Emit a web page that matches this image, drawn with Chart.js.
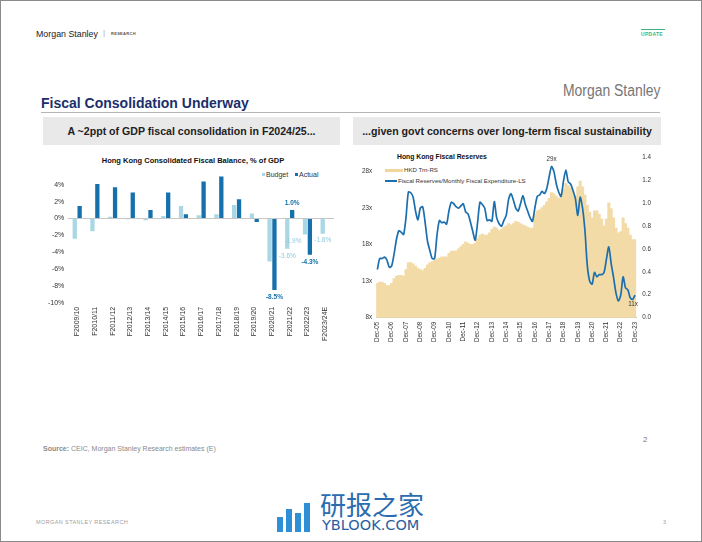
<!DOCTYPE html>
<html>
<head>
<meta charset="utf-8">
<title>Fiscal Consolidation Underway</title>
<script src="https://cdn.jsdelivr.net/npm/chart.js@4.4.1/dist/chart.umd.min.js"></script>
<style>
  html, body { margin: 0; padding: 0; background: #fff; }
  body { width: 702px; height: 542px; position: relative; overflow: hidden;
         font-family: "Liberation Sans", Arial, sans-serif; }
  .frame { position: absolute; left: 0; top: 0; width: 700px; height: 540px; border: 1px solid #8a8a8a; }
  .t { position: absolute; white-space: nowrap; line-height: 1; }
  .squeeze { transform-origin: 0 50%; }
  .box { position: absolute; background: #e9e9e9; }
  .chart { position: absolute; }
  .sw { position: absolute; }
</style>
</head>
<body>
<div class="frame"></div>

<!-- header -->
<div class="t squeeze" style="left:36px; top:28.5px; font-size:9.5px; color:#222; transform:scaleX(0.93);">Morgan Stanley</div>
<div class="t" style="left:103px; top:29px; font-size:8px; color:#aaa;">|</div>
<div class="t" style="left:111px; top:31.5px; font-size:4px; font-weight:bold; color:#555; letter-spacing:0.3px;">RESEARCH</div>
<div style="position:absolute; left:641px; top:29px; width:24px; height:1px; background:#3fb37f;"></div>
<div class="t" style="left:641px; top:31.5px; font-size:5px; font-weight:bold; color:#3fb37f; letter-spacing:0.3px;">UPDATE</div>

<div class="t squeeze" style="left:563px; top:83px; font-size:16px; color:#767676; transform:scaleX(0.87);">Morgan Stanley</div>
<div class="t" style="left:41px; top:96px; font-size:14px; font-weight:bold; color:#1b2f6b;">Fiscal Consolidation Underway</div>
<div style="position:absolute; left:41px; top:112px; width:619px; height:1px; background:#b5b5b5;"></div>

<div class="box" style="left:43px; top:117px; width:297px; height:28px;"></div>
<div class="box" style="left:353px; top:117px; width:308px; height:28px;"></div>
<div class="t" style="left:43px; width:297px; text-align:center; top:125.5px; font-size:10.6px; font-weight:bold; color:#222;">A ~2ppt of GDP fiscal consolidation in F2024/25...</div>
<div class="t" style="left:353px; width:308px; text-align:center; top:125.5px; font-size:10.6px; font-weight:bold; color:#222;">...given govt concerns over long-term fiscal sustainability</div>

<!-- left chart -->
<div class="t" style="left:30px; width:326px; text-align:center; top:157px; font-size:7.5px; font-weight:bold; color:#111;">Hong Kong Consolidated Fiscal Balance, % of GDP</div>
<div class="sw" style="left:261.5px; top:172.5px; width:3.5px; height:3.5px; background:#a9d7e5;"></div>
<div class="t" style="left:266px; top:171px; font-size:7px; color:#333;">Budget</div>
<div class="sw" style="left:294.5px; top:172.5px; width:3.5px; height:3.5px; background:#1570ab;"></div>
<div class="t" style="left:299px; top:171px; font-size:7px; color:#333;">Actual</div>
<div class="chart" style="left:30px; top:150px; width:310px; height:200px;"><canvas id="balanceChart"></canvas></div>

<!-- right chart -->
<div class="t" style="left:397px; top:153.5px; font-size:6.8px; font-weight:bold; color:#111;">Hong Kong Fiscal Reserves</div>
<div class="sw" style="left:385px; top:168.5px; width:18px; height:3.5px; background:#f0d59c;"></div>
<div class="t" style="left:404px; top:167px; font-size:6.1px; color:#333;">HKD Trn-RS</div>
<div class="sw" style="left:385px; top:180px; width:12px; height:1.8px; background:#1c6fae;"></div>
<div class="t" style="left:398px; top:178px; font-size:6.1px; color:#333;">Fiscal Reserves/Monthly Fiscal Expenditure-LS</div>
<div class="chart" style="left:355px; top:145px; width:305px; height:205px;"><canvas id="reserveChart"></canvas></div>

<!-- footer -->
<div class="t" style="left:43px; top:444.5px; font-size:7px; color:#8a8a8a;"><b>Source:</b> CEIC, Morgan Stanley Research estimates (E)</div>
<div class="t" style="left:643px; top:436px; font-size:8px; color:#777;">2</div>
<div class="t" style="left:36px; top:519.5px; font-size:5.5px; color:#a0a0a0; letter-spacing:0.4px;">MORGAN STANLEY RESEARCH</div>
<div class="t" style="left:663px; top:519.5px; font-size:5.5px; color:#a0a0a0;">3</div>

<!-- watermark -->
<div class="sw" style="left:277px; top:517px; width:6px; height:15px; background:#2f8fd6;"></div>
<div class="sw" style="left:286px; top:509px; width:6px; height:23px; background:#2f8fd6;"></div>
<div class="sw" style="left:295px; top:513px; width:6px; height:19px; background:#2f8fd6;"></div>
<div class="sw" style="left:304px; top:503px; width:6px; height:29px; background:#2f8fd6;"></div>
<div class="t" style="left:320px; top:491px; font-size:26px; color:#2b6cb0; font-family:'Noto Sans CJK SC', sans-serif;">研报之家</div>
<div class="t" style="left:322px; top:518px; font-size:14.5px; color:#2a5d9f; font-family:'DejaVu Sans', sans-serif;">YBLOOK.COM</div>

<script>
Chart.defaults.font.family = "'Liberation Sans', Arial, sans-serif";
Chart.defaults.color = '#333';

// left: consolidated fiscal balance, % of GDP
const fyLabels = ['F2009/10', 'F2010/11', 'F2011/12', 'F2012/13', 'F2013/14', 'F2014/15', 'F2015/16',
    'F2016/17', 'F2017/18', 'F2018/19', 'F2019/20', 'F2020/21', 'F2021/22', 'F2022/23', 'F2023/24E'];
const budgetPct = [-2.4, -1.5, 0.2, -0.1, -0.2, 0.3, 1.5, 0.4, 0.5, 1.6, 0.6, -5.1, -3.6, -1.9, -1.8];
const actualPct = [1.5, 4.1, 3.7, 3.1, 1.0, 3.1, 0.5, 4.4, 5.0, 2.3, -0.4, -8.5, 1.0, -4.3, null];
const budgetTagIdx = [12, 13, 14];
const actualTagIdx = [11, 12, 13];

// right: fiscal reserves, every second month from Dec-05
const yearTicks = ['Dec-05', 'Dec-06', 'Dec-07', 'Dec-08', 'Dec-09', 'Dec-10', 'Dec-11', 'Dec-12', 'Dec-13',
    'Dec-14', 'Dec-15', 'Dec-16', 'Dec-17', 'Dec-18', 'Dec-19', 'Dec-20', 'Dec-21', 'Dec-22', 'Dec-23'];
const periodMonths = ['Dec', 'Feb', 'Apr', 'Jun', 'Aug', 'Oct'];
const coverMonths = [
    14.6, 16.1, 16.1, 16.3, 15.9, 14.9, 15.1, 16.7, 18.7, 19.9,
    19.7, 19.4, 21.7, 25.2, 25.1, 24.5, 22.6, 21.4, 23.0, 23.2,
    21.1, 18.5, 17.2, 16.1, 16.1, 19.3, 21.3, 21.0, 21.1, 20.8,
    22.6, 23.8, 23.6, 23.2, 23.0, 23.3, 23.6, 22.5, 22.2, 21.1,
    19.8, 18.6, 21.0, 23.8, 23.5, 23.0, 21.3, 21.4, 21.2, 23.9,
    21.7, 20.9, 20.5, 21.3, 22.0, 24.2, 25.0, 24.1, 23.0, 22.6,
    23.6, 24.7, 23.5, 22.6, 21.7, 21.2, 23.0, 24.6, 24.8, 25.3,
    25.0, 25.7, 27.3, 28.7, 28.0, 26.3, 25.2, 24.6, 26.7, 28.2,
    26.6, 26.3, 25.4, 24.3, 22.0, 24.5, 23.0, 19.9, 15.1, 13.0,
    12.6, 14.2, 13.6, 13.9, 13.9, 14.2, 16.0, 17.7, 15.4, 13.5,
    11.4, 10.3, 11.1, 13.6, 12.1, 11.8, 10.7, 10.5, 11.1
];
const hkdTrn = [
    0.30, 0.31, 0.31, 0.30, 0.28, 0.28, 0.30, 0.34, 0.36, 0.37,
    0.37, 0.36, 0.42, 0.48, 0.48, 0.47, 0.45, 0.43, 0.42, 0.41,
    0.43, 0.46, 0.48, 0.49, 0.50, 0.51, 0.52, 0.53, 0.53, 0.53,
    0.56, 0.58, 0.58, 0.58, 0.60, 0.62, 0.64, 0.66, 0.65, 0.64,
    0.64, 0.65, 0.69, 0.72, 0.73, 0.72, 0.72, 0.74, 0.77, 0.79,
    0.78, 0.76, 0.77, 0.79, 0.80, 0.82, 0.81, 0.82, 0.84, 0.83,
    0.82, 0.81, 0.80, 0.79, 0.78, 0.78, 0.90, 0.93, 0.94, 0.96,
    0.98, 1.01, 1.04, 1.09, 1.08, 1.06, 1.04, 1.08, 1.12, 1.17,
    1.15, 1.13, 1.10, 1.06, 1.14, 1.19, 1.14, 1.07, 0.98, 0.92,
    0.87, 0.93, 0.93, 0.90, 0.86, 0.80, 0.86, 1.00, 0.95, 0.87,
    0.78, 0.74, 0.75, 0.87, 0.82, 0.78, 0.72, 0.68, 0.68
];
const coverTicks = [8, 13, 18, 23, 28];

const periodLabels = coverMonths.map((v, k) =>
    k % 6 === 0 ? yearTicks[k / 6] : periodMonths[k % 6] + yearTicks[Math.ceil(k / 6)].slice(3));

// value labels under / over the last few bars
const barTags = {
    id: 'barTags',
    afterDatasetsDraw(chart) {
        const ctx = chart.ctx;
        const sets = [
            { idx: budgetTagIdx, color: '#8ecadc', weight: 'normal', shift: { 13: -12 } },
            { idx: actualTagIdx, color: '#1570ab', weight: 'bold', shift: {} }
        ];
        ctx.save();
        ctx.textAlign = 'center';
        ctx.textBaseline = 'middle';
        sets.forEach((s, di) => {
            const meta = chart.getDatasetMeta(di);
            const vals = chart.data.datasets[di].data;
            ctx.font = s.weight + " 6.5px 'Liberation Sans', Arial, sans-serif";
            ctx.fillStyle = s.color;
            s.idx.forEach(i => {
                const bar = meta.data[i];
                const v = vals[i];
                const y = v >= 0 ? bar.y - 7 : bar.y + 7;
                ctx.fillText(v.toFixed(1) + '%', bar.x + (s.shift[i] || 0), y);
            });
        });
        ctx.restore();
    }
};

const lineTags = {
    id: 'lineTags',
    afterDatasetsDraw(chart) {
        const pts = chart.getDatasetMeta(0).data;
        const vals = chart.data.datasets[0].data;
        const peak = vals.indexOf(Math.max(...vals));
        const last = vals.length - 1;
        const ctx = chart.ctx;
        ctx.save();
        ctx.font = "6.3px 'Liberation Sans', Arial, sans-serif";
        ctx.fillStyle = '#333';
        ctx.textAlign = 'center';
        ctx.textBaseline = 'middle';
        ctx.fillText(Math.round(vals[peak]) + 'x', pts[peak].x, pts[peak].y - 7);
        ctx.fillText(Math.round(vals[last]) + 'x', pts[last].x - 2, pts[last].y + 9);
        ctx.restore();
    }
};

new Chart(document.getElementById('balanceChart'), {
    type: 'bar',
    data: {
        labels: fyLabels,
        datasets: [
            { label: 'Budget', data: budgetPct, backgroundColor: '#a9d7e5', categoryPercentage: 0.55, barPercentage: 0.88 },
            { label: 'Actual', data: actualPct, backgroundColor: '#1570ab', categoryPercentage: 0.55, barPercentage: 0.88 }
        ]
    },
    options: {
        responsive: true,
        maintainAspectRatio: false,
        animation: false,
        layout: { padding: { left: 14, right: 6, top: 18, bottom: 5 } },
        plugins: { legend: { display: false }, title: { display: false }, tooltip: { enabled: false } },
        scales: {
            x: {
                grid: { display: false, drawTicks: false },
                border: { display: false },
                ticks: { autoSkip: false, maxRotation: 90, minRotation: 90, padding: 4, font: { size: 7 }, color: '#333' }
            },
            y: {
                min: -10,
                max: 6,
                border: { display: false },
                grid: { drawTicks: false, color: c => c.tick && c.tick.value === 0 ? '#c6c6c6' : 'transparent' },
                ticks: { stepSize: 2, padding: 4, font: { size: 7 }, color: '#333', callback: v => v > 4 ? null : v + '%' }
            }
        }
    },
    plugins: [barTags]
});

new Chart(document.getElementById('reserveChart'), {
    type: 'bar',
    data: {
        labels: periodLabels,
        datasets: [
            {
                type: 'line', label: 'Fiscal Reserves/Monthly Fiscal Expenditure-LS', data: coverMonths,
                yAxisID: 'y', borderColor: '#1c6fae', borderWidth: 1.7, pointRadius: 0, tension: 0.25, order: 0
            },
            {
                type: 'bar', label: 'HKD Trn-RS', data: hkdTrn, yAxisID: 'y2',
                backgroundColor: '#f3dba7', barPercentage: 1, categoryPercentage: 1, order: 1
            }
        ]
    },
    options: {
        responsive: true,
        maintainAspectRatio: false,
        animation: false,
        layout: { padding: { left: 3, right: 3, top: 12, bottom: 4 } },
        plugins: { legend: { display: false }, title: { display: false }, tooltip: { enabled: false } },
        scales: {
            x: {
                grid: { display: false, drawTicks: false },
                border: { display: true, color: '#bdbdbd' },
                ticks: {
                    autoSkip: false, maxRotation: 90, minRotation: 90, padding: 4, font: { size: 6.3 }, color: '#333',
                    callback: (v, i) => i % 6 === 0 ? periodLabels[i] : null
                }
            },
            y: {
                position: 'left', min: 8, max: 30,
                grid: { display: false, drawTicks: false },
                border: { display: false },
                afterBuildTicks: s => { s.ticks = coverTicks.map(v => ({ value: v })); },
                ticks: { padding: 4, font: { size: 6.3 }, color: '#333', callback: v => v + 'x' }
            },
            y2: {
                position: 'right', min: 0, max: 1.4,
                grid: { display: false, drawTicks: false },
                border: { display: false },
                ticks: { stepSize: 0.2, padding: 6, font: { size: 6.3 }, color: '#333', callback: v => v.toFixed(1) }
            }
        }
    },
    plugins: [lineTags]
});
</script>
</body>
</html>
